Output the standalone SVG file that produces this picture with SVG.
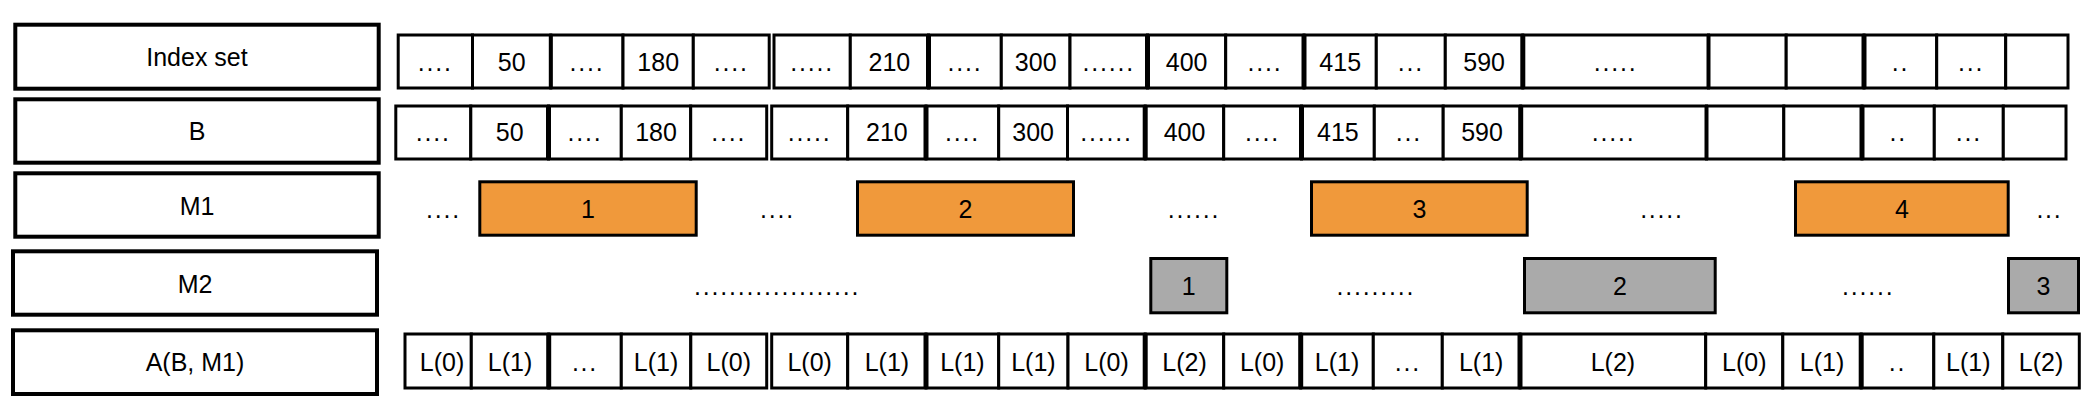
<svg xmlns="http://www.w3.org/2000/svg" width="2096" height="420" viewBox="0 0 2096 420">
<style>
.lbl{fill:#fff;stroke:#000;stroke-width:4}
.cell{fill:#fff;stroke:#000;stroke-width:3}
.thk{stroke:#000;stroke-width:5}
.med{stroke:#000;stroke-width:4}
.or{fill:#F0993B;stroke:#000;stroke-width:3}
.gr{fill:#AAAAAA;stroke:#000;stroke-width:3}
text{font-family:"Liberation Sans",Arial,Helvetica,sans-serif;font-size:25px;fill:#000;text-anchor:middle}
.d{letter-spacing:1.8px}
</style>
<rect width="2096" height="420" fill="#fff"/>

<g id="label-index-set"><rect class="lbl" x="15.3" y="24.7" width="363.4" height="64"/><text x="197" y="66">Index set</text></g>
<g id="label-b"><rect class="lbl" x="15.3" y="99.3" width="363.4" height="63.4"/><text x="197" y="140">B</text></g>
<g id="label-m1"><rect class="lbl" x="15.3" y="173.3" width="363.4" height="63.4"/><text x="197" y="214.5">M1</text></g>
<g id="label-m2"><rect class="lbl" x="13" y="251.3" width="364" height="63.4"/><text x="195" y="292.5">M2</text></g>
<g id="label-a"><rect class="lbl" x="13" y="330.3" width="364" height="63.7"/><text x="195" y="371">A(B, M1)</text></g>

<g id="row-index-set">
<rect class="cell" x="398.2" y="35" width="74.3" height="53"/>
<rect class="cell" x="472.5" y="35" width="78.3" height="53"/>
<rect class="cell" x="550.8" y="35" width="72.2" height="53"/>
<rect class="cell" x="623" y="35" width="70.3" height="53"/>
<rect class="cell" x="693.3" y="35" width="75.9" height="53"/>
<rect class="cell" x="774" y="35" width="76.3" height="53"/>
<rect class="cell" x="850.3" y="35" width="78.2" height="53"/>
<rect class="cell" x="928.5" y="35" width="72.8" height="53"/>
<rect class="cell" x="1001.3" y="35" width="68.7" height="53"/>
<rect class="cell" x="1070" y="35" width="77.5" height="53"/>
<rect class="cell" x="1147.5" y="35" width="78.2" height="53"/>
<rect class="cell" x="1225.7" y="35" width="78.3" height="53"/>
<rect class="cell" x="1304" y="35" width="72.3" height="53"/>
<rect class="cell" x="1376.3" y="35" width="69" height="53"/>
<rect class="cell" x="1445.3" y="35" width="77.5" height="53"/>
<rect class="cell" x="1522.8" y="35" width="185.7" height="53"/>
<rect class="cell" x="1708.5" y="35" width="77.7" height="53"/>
<rect class="cell" x="1786.2" y="35" width="77.8" height="53"/>
<rect class="cell" x="1864" y="35" width="72.7" height="53"/>
<rect class="cell" x="1936.7" y="35" width="69" height="53"/>
<rect class="cell" x="2005.7" y="35" width="62.3" height="53"/>
<line class="med" x1="550.8" y1="35" x2="550.8" y2="88"/>
<line class="thk" x1="928.5" y1="35" x2="928.5" y2="88"/>
<line class="thk" x1="1147.5" y1="35" x2="1147.5" y2="88"/>
<line class="thk" x1="1304" y1="35" x2="1304" y2="88"/>
<line class="thk" x1="1522.8" y1="35" x2="1522.8" y2="88"/>
<line class="med" x1="1708.5" y1="35" x2="1708.5" y2="88"/>
<line class="thk" x1="1864" y1="35" x2="1864" y2="88"/>
<text class="d" x="435.3" y="70.5">....</text>
<text x="511.7" y="70.5">50</text>
<text class="d" x="586.9" y="70.5">....</text>
<text x="658.2" y="70.5">180</text>
<text class="d" x="731.3" y="70.5">....</text>
<text class="d" x="812.2" y="70.5">.....</text>
<text x="889.4" y="70.5">210</text>
<text class="d" x="964.9" y="70.5">....</text>
<text x="1035.7" y="70.5">300</text>
<text class="d" x="1108.8" y="70.5">......</text>
<text x="1186.6" y="70.5">400</text>
<text class="d" x="1264.9" y="70.5">....</text>
<text x="1340.2" y="70.5">415</text>
<text class="d" x="1410.8" y="70.5">...</text>
<text x="1484.1" y="70.5">590</text>
<text class="d" x="1615.7" y="70.5">.....</text>
<text class="d" x="1900.4" y="70.5">..</text>
<text class="d" x="1971.2" y="70.5">...</text>
</g>

<g id="row-b">
<rect class="cell" x="395.8" y="106" width="75" height="53"/>
<rect class="cell" x="470.8" y="106" width="77.7" height="53"/>
<rect class="cell" x="548.5" y="106" width="72.8" height="53"/>
<rect class="cell" x="621.3" y="106" width="69.4" height="53"/>
<rect class="cell" x="690.7" y="106" width="76" height="53"/>
<rect class="cell" x="771.7" y="106" width="76" height="53"/>
<rect class="cell" x="847.7" y="106" width="78.3" height="53"/>
<rect class="cell" x="926" y="106" width="72.7" height="53"/>
<rect class="cell" x="998.7" y="106" width="68.8" height="53"/>
<rect class="cell" x="1067.5" y="106" width="77.7" height="53"/>
<rect class="cell" x="1145.2" y="106" width="78.5" height="53"/>
<rect class="cell" x="1223.7" y="106" width="77.8" height="53"/>
<rect class="cell" x="1301.5" y="106" width="72.8" height="53"/>
<rect class="cell" x="1374.3" y="106" width="68.9" height="53"/>
<rect class="cell" x="1443.2" y="106" width="77.5" height="53"/>
<rect class="cell" x="1520.7" y="106" width="185.8" height="53"/>
<rect class="cell" x="1706.5" y="106" width="77.3" height="53"/>
<rect class="cell" x="1783.8" y="106" width="78.2" height="53"/>
<rect class="cell" x="1862" y="106" width="72.3" height="53"/>
<rect class="cell" x="1934.3" y="106" width="69" height="53"/>
<rect class="cell" x="2003.3" y="106" width="62.7" height="53"/>
<line class="thk" x1="548.5" y1="106" x2="548.5" y2="159"/>
<line class="thk" x1="926" y1="106" x2="926" y2="159"/>
<line class="thk" x1="1145.2" y1="106" x2="1145.2" y2="159"/>
<line class="thk" x1="1301.5" y1="106" x2="1301.5" y2="159"/>
<line class="thk" x1="1520.7" y1="106" x2="1520.7" y2="159"/>
<line class="med" x1="1706.5" y1="106" x2="1706.5" y2="159"/>
<line class="thk" x1="1862" y1="106" x2="1862" y2="159"/>
<text class="d" x="433.3" y="141.3">....</text>
<text x="509.7" y="141.3">50</text>
<text class="d" x="584.9" y="141.3">....</text>
<text x="656" y="141.3">180</text>
<text class="d" x="728.7" y="141.3">....</text>
<text class="d" x="809.7" y="141.3">.....</text>
<text x="886.9" y="141.3">210</text>
<text class="d" x="962.4" y="141.3">....</text>
<text x="1033.1" y="141.3">300</text>
<text class="d" x="1106.4" y="141.3">......</text>
<text x="1184.5" y="141.3">400</text>
<text class="d" x="1262.6" y="141.3">....</text>
<text x="1337.9" y="141.3">415</text>
<text class="d" x="1408.8" y="141.3">...</text>
<text x="1482" y="141.3">590</text>
<text class="d" x="1613.6" y="141.3">.....</text>
<text class="d" x="1898.2" y="141.3">..</text>
<text class="d" x="1968.8" y="141.3">...</text>
</g>

<g id="row-m1">
<text class="d" x="443.5" y="218.3">....</text>
<rect class="or" x="479.8" y="181.8" width="216.4" height="53.4"/>
<text x="588" y="218.3">1</text>
<text class="d" x="777.5" y="218.3">....</text>
<rect class="or" x="857.5" y="181.8" width="216" height="53.4"/>
<text x="965.5" y="218.3">2</text>
<text class="d" x="1194" y="218.3">......</text>
<rect class="or" x="1311.5" y="181.8" width="215.7" height="53.4"/>
<text x="1419.4" y="218.3">3</text>
<text class="d" x="1662" y="218.3">.....</text>
<rect class="or" x="1795.5" y="181.8" width="212.7" height="53.4"/>
<text x="1901.9" y="218.3">4</text>
<text class="d" x="2049.5" y="218.3">...</text>
</g>

<g id="row-m2">
<text class="d" x="777.2" y="295">...................</text>
<rect class="gr" x="1150.8" y="258.5" width="76" height="54.3"/>
<text x="1188.8" y="295">1</text>
<text class="d" x="1375.8" y="295">.........</text>
<rect class="gr" x="1524.5" y="258.5" width="190.7" height="54.3"/>
<text x="1619.9" y="295">2</text>
<text class="d" x="1868.3" y="295">......</text>
<rect class="gr" x="2008.5" y="258.5" width="70" height="54.3"/>
<text x="2043.5" y="295">3</text>
</g>

<g id="row-a">
<rect class="cell" x="405" y="334" width="66.3" height="54"/>
<rect class="cell" x="471.3" y="334" width="77.4" height="54"/>
<rect class="cell" x="548.7" y="334" width="72.6" height="54"/>
<rect class="cell" x="621.3" y="334" width="69.5" height="54"/>
<rect class="cell" x="690.8" y="334" width="75.9" height="54"/>
<rect class="cell" x="771.7" y="334" width="76" height="54"/>
<rect class="cell" x="847.7" y="334" width="78.3" height="54"/>
<rect class="cell" x="926" y="334" width="72.7" height="54"/>
<rect class="cell" x="998.7" y="334" width="69.3" height="54"/>
<rect class="cell" x="1068" y="334" width="77.2" height="54"/>
<rect class="cell" x="1145.2" y="334" width="78.5" height="54"/>
<rect class="cell" x="1223.7" y="334" width="77" height="54"/>
<rect class="cell" x="1300.7" y="334" width="72.6" height="54"/>
<rect class="cell" x="1373.3" y="334" width="69" height="54"/>
<rect class="cell" x="1442.3" y="334" width="77.7" height="54"/>
<rect class="cell" x="1520" y="334" width="185.7" height="54"/>
<rect class="cell" x="1705.7" y="334" width="77.1" height="54"/>
<rect class="cell" x="1782.8" y="334" width="78.4" height="54"/>
<rect class="cell" x="1861.2" y="334" width="72.6" height="54"/>
<rect class="cell" x="1933.8" y="334" width="69" height="54"/>
<rect class="cell" x="2002.8" y="334" width="76.5" height="54"/>
<line class="thk" x1="548.7" y1="334" x2="548.7" y2="388"/>
<line class="thk" x1="926" y1="334" x2="926" y2="388"/>
<line class="thk" x1="1145.2" y1="334" x2="1145.2" y2="388"/>
<line class="thk" x1="1300.7" y1="334" x2="1300.7" y2="388"/>
<line class="thk" x1="1520" y1="334" x2="1520" y2="388"/>
<line class="thk" x1="1861.2" y1="334" x2="1861.2" y2="388"/>
<text x="442" y="370.5">L(0)</text>
<text x="510" y="370.5">L(1)</text>
<text class="d" x="585" y="370.5">...</text>
<text x="656" y="370.5">L(1)</text>
<text x="728.8" y="370.5">L(0)</text>
<text x="809.7" y="370.5">L(0)</text>
<text x="886.9" y="370.5">L(1)</text>
<text x="962.4" y="370.5">L(1)</text>
<text x="1033.4" y="370.5">L(1)</text>
<text x="1106.6" y="370.5">L(0)</text>
<text x="1184.5" y="370.5">L(2)</text>
<text x="1262.2" y="370.5">L(0)</text>
<text x="1337" y="370.5">L(1)</text>
<text class="d" x="1407.8" y="370.5">...</text>
<text x="1481.2" y="370.5">L(1)</text>
<text x="1612.9" y="370.5">L(2)</text>
<text x="1744.3" y="370.5">L(0)</text>
<text x="1822" y="370.5">L(1)</text>
<text class="d" x="1897.5" y="370.5">..</text>
<text x="1968.3" y="370.5">L(1)</text>
<text x="2041.1" y="370.5">L(2)</text>
</g>
</svg>
